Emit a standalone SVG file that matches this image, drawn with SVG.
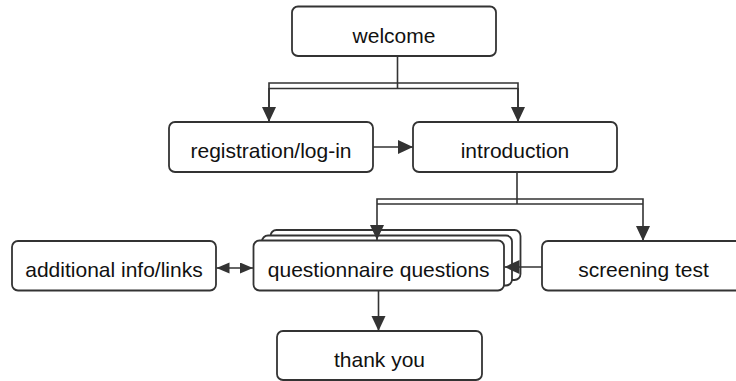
<svg xmlns="http://www.w3.org/2000/svg" width="736" height="381" viewBox="0 0 736 381">
<style>
.box{fill:#fff;stroke:#333;stroke-width:1.8}
.lbl{font-family:"Liberation Sans",Arial,sans-serif;font-size:21px;fill:#111;text-anchor:middle}
.ln{fill:none;stroke:#333;stroke-width:1.6}
</style>
<defs>
<marker id="ah" markerUnits="userSpaceOnUse" markerWidth="16" markerHeight="15" refX="15" refY="7" orient="auto">
<path d="M0,0 L15,7 L0,14 z" fill="#333"/>
</marker>
<marker id="ahs" markerUnits="userSpaceOnUse" markerWidth="14" markerHeight="12" refX="13" refY="5.5" orient="auto-start-reverse">
<path d="M0,0 L13,5.5 L0,11 z" fill="#333"/>
</marker>
</defs>
<rect width="736" height="381" fill="#fff"/>
<g id="connectors">
<path class="ln" d="M397.5,56 V88.5"/>
<path class="ln" d="M269,122 V83 H518 V122"/>
<path class="ln" d="M269,88.5 H518"/>
<path class="ln" d="M269,88 V122" marker-end="url(#ah)"/>
<path class="ln" d="M518,88 V122" marker-end="url(#ah)"/>
<path class="ln" d="M373,147 H413" marker-end="url(#ah)"/>
<path class="ln" d="M517,172 V204"/>
<path class="ln" d="M377,204 V199 H643 V204"/>
<path class="ln" d="M377,204 H643"/>
<path class="ln" d="M643,204 V241" marker-end="url(#ah)"/>
</g>
<g id="n-welcome"><rect class="box" x="292" y="6.5" width="204" height="49.5" rx="6"/><text class="lbl" x="394" y="42.5">welcome</text></g>
<g id="n-registration"><rect class="box" x="169" y="122" width="204" height="50" rx="6"/><text class="lbl" x="271" y="158">registration/log-in</text></g>
<g id="n-introduction"><rect class="box" x="413" y="122" width="204" height="50" rx="6"/><text class="lbl" x="515" y="158">introduction</text></g>
<g id="n-additional"><rect class="box" x="12" y="241" width="204" height="49.5" rx="6"/><text class="lbl" x="114" y="277">additional info/links</text></g>
<g id="n-questionnaire">
<rect class="box" x="270.5" y="230" width="250" height="50" rx="6"/>
<rect class="box" x="262" y="235.5" width="250" height="50" rx="6"/>
<rect class="box" x="253.5" y="240.5" width="250.5" height="50" rx="6"/>
<text class="lbl" x="378.7" y="277">questionnaire questions</text></g>
<g id="n-screening"><rect class="box" x="542" y="241" width="203" height="49.5" rx="6"/><text class="lbl" x="643.5" y="277">screening test</text></g>
<g id="n-thankyou"><rect class="box" x="277" y="331" width="205" height="49" rx="6"/><text class="lbl" x="379.5" y="367">thank you</text></g>
<g id="connectors-top">
<path class="ln" d="M377,204 V240" marker-end="url(#ah)"/>
<path class="ln" d="M542,267 H504.5" marker-end="url(#ah)"/>
<path class="ln" d="M216.5,268 H253" marker-start="url(#ahs)" marker-end="url(#ahs)"/>
<path class="ln" d="M378.5,291 V331" marker-end="url(#ah)"/>
</g>
</svg>
